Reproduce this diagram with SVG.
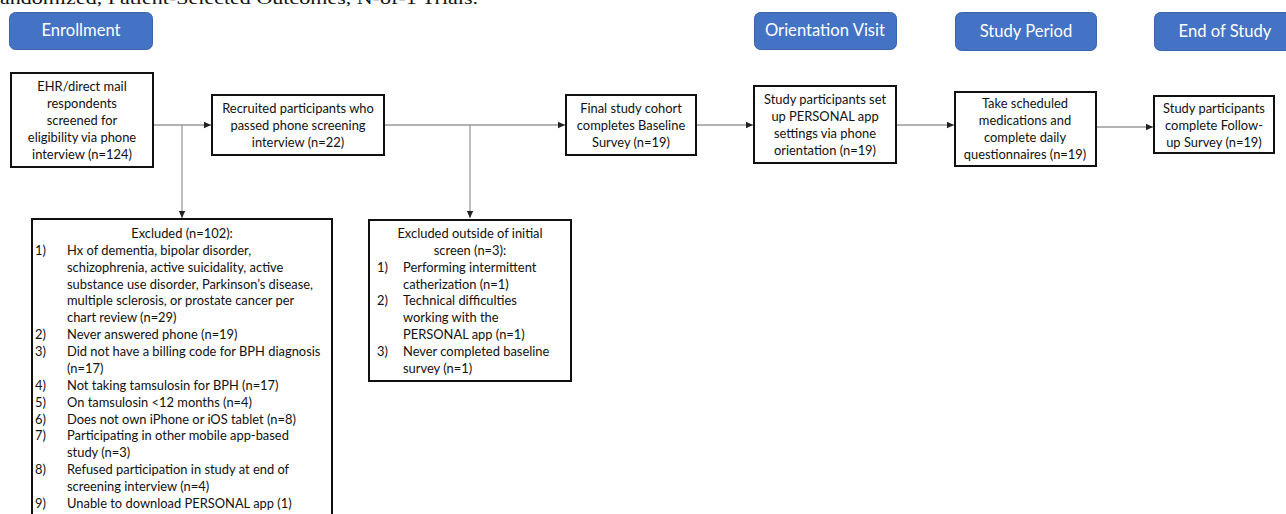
<svg xmlns="http://www.w3.org/2000/svg" width="1286" height="514" viewBox="0 0 1286 514">
<style>
.hdr rect{fill:#4472C4;stroke:#3B64AE;stroke-width:1}
.hdr text{fill:#fff;font-family:Lato,"Open Sans",sans-serif;font-size:16.6px;text-anchor:middle}
.box rect{fill:#fff;stroke:#111;stroke-width:2}
.box text{fill:#111;font-family:Lato,"Liberation Sans",sans-serif;font-size:12.9px}
.c{text-anchor:middle}
.conn line{stroke:#9a9a9a;stroke-width:1.3;fill:none}
.title{font-family:"Liberation Serif",serif;font-size:17px;fill:#111}
</style>
<defs>
<marker id="arr" markerWidth="8" markerHeight="8" refX="7" refY="4" orient="auto" markerUnits="userSpaceOnUse">
<path d="M0,0.8 L7,4 L0,7.2 Z" fill="#222"/>
</marker>
</defs>
<rect width="1286" height="514" fill="#fff"/>
<text class="title" x="0" y="4" textLength="478" lengthAdjust="spacingAndGlyphs">andomized, Patient-Selected Outcomes, N-of-1 Trials.</text>

<g id="hdr-enrollment" class="hdr"><rect x="9.5" y="12.5" width="143" height="37" rx="6"/><text x="81" y="36">Enrollment</text></g>
<g id="hdr-orientation" class="hdr"><rect x="754.5" y="12.5" width="142" height="37" rx="6"/><text x="825" y="36">Orientation Visit</text></g>
<g id="hdr-study" class="hdr"><rect x="955.5" y="12.5" width="141" height="38" rx="6"/><text x="1026" y="37">Study Period</text></g>
<g id="hdr-end" class="hdr"><rect x="1154.5" y="12.5" width="142" height="38" rx="6"/><text x="1225" y="37">End of Study</text></g>

<g id="connectors" class="conn">
<line x1="153" y1="125" x2="211" y2="125" marker-end="url(#arr)"/>
<line x1="182" y1="125" x2="182" y2="218" marker-end="url(#arr)"/>
<line x1="384" y1="125" x2="565" y2="125" marker-end="url(#arr)"/>
<line x1="470" y1="125" x2="470" y2="218" marker-end="url(#arr)"/>
<line x1="696" y1="125" x2="753" y2="125" marker-end="url(#arr)"/>
<line x1="896" y1="125" x2="954" y2="125" marker-end="url(#arr)"/>
<line x1="1096" y1="127" x2="1153" y2="127" marker-end="url(#arr)"/>
</g>

<g id="screened" class="box"><rect x="11" y="73" width="142" height="94"/>
<text class="c" x="82" y="91">EHR/direct mail</text>
<text class="c" x="82" y="108">respondents</text>
<text class="c" x="82" y="125">screened for</text>
<text class="c" x="82" y="142">eligibility via phone</text>
<text class="c" x="82" y="159">interview (n=124)</text></g>

<g id="recruited" class="box"><rect x="212" y="95" width="172" height="60"/>
<text class="c" x="298" y="113">Recruited participants who</text>
<text class="c" x="298" y="130">passed phone screening</text>
<text class="c" x="298" y="147">interview (n=22)</text></g>

<g id="baseline" class="box"><rect x="566" y="95" width="130" height="60"/>
<text class="c" x="631" y="113">Final study cohort</text>
<text class="c" x="631" y="130">completes Baseline</text>
<text class="c" x="631" y="147">Survey (n=19)</text></g>

<g id="orientation" class="box"><rect x="754" y="86" width="142" height="77"/>
<text class="c" x="825" y="104">Study participants set</text>
<text class="c" x="825" y="121">up PERSONAL app</text>
<text class="c" x="825" y="138">settings via phone</text>
<text class="c" x="825" y="155">orientation (n=19)</text></g>

<g id="study" class="box"><rect x="955" y="92" width="141" height="74"/>
<text class="c" x="1025" y="108">Take scheduled</text>
<text class="c" x="1025" y="125">medications and</text>
<text class="c" x="1025" y="142">complete daily</text>
<text class="c" x="1025" y="159">questionnaires (n=19)</text></g>

<g id="followup" class="box"><rect x="1154" y="96" width="120" height="57"/>
<text class="c" x="1214" y="113">Study participants</text>
<text class="c" x="1214" y="130">complete Follow-</text>
<text class="c" x="1214" y="147">up Survey (n=19)</text></g>

<g id="excluded1" class="box"><rect x="32" y="219" width="300" height="310"/>
<text class="c" x="182" y="238">Excluded (n=102):</text>
<text x="35" y="255">1)</text><text x="67" y="255">Hx of dementia, bipolar disorder,</text>
<text x="67" y="272">schizophrenia, active suicidality, active</text>
<text x="67" y="289">substance use disorder, Parkinson’s disease,</text>
<text x="67" y="305">multiple sclerosis, or prostate cancer per</text>
<text x="67" y="322">chart review (n=29)</text>
<text x="35" y="339">2)</text><text x="67" y="339">Never answered phone (n=19)</text>
<text x="35" y="356">3)</text><text x="67" y="356">Did not have a billing code for BPH diagnosis</text>
<text x="67" y="373">(n=17)</text>
<text x="35" y="390">4)</text><text x="67" y="390">Not taking tamsulosin for BPH (n=17)</text>
<text x="35" y="407">5)</text><text x="67" y="407">On tamsulosin &lt;12 months (n=4)</text>
<text x="35" y="424">6)</text><text x="67" y="424">Does not own iPhone or iOS tablet (n=8)</text>
<text x="35" y="440">7)</text><text x="67" y="440">Participating in other mobile app-based</text>
<text x="67" y="457">study (n=3)</text>
<text x="35" y="474">8)</text><text x="67" y="474">Refused participation in study at end of</text>
<text x="67" y="491">screening interview (n=4)</text>
<text x="35" y="508">9)</text><text x="67" y="508">Unable to download PERSONAL app (1)</text></g>

<g id="excluded2" class="box"><rect x="369" y="220" width="202" height="161"/>
<text class="c" x="470" y="238">Excluded outside of initial</text>
<text class="c" x="470" y="255">screen (n=3):</text>
<text x="377" y="272">1)</text><text x="403" y="272">Performing intermittent</text>
<text x="403" y="289">catherization (n=1)</text>
<text x="377" y="305">2)</text><text x="403" y="305">Technical difficulties</text>
<text x="403" y="322">working with the</text>
<text x="403" y="339">PERSONAL app (n=1)</text>
<text x="377" y="356">3)</text><text x="403" y="356">Never completed baseline</text>
<text x="403" y="373">survey (n=1)</text></g>
</svg>
